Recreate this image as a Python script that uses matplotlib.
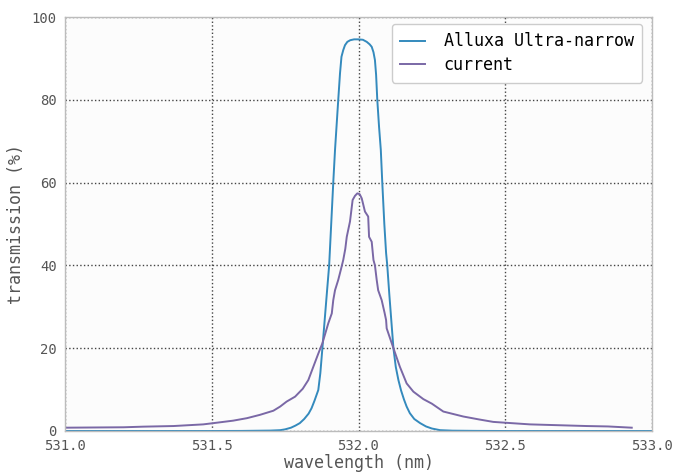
import matplotlib
matplotlib.use('Agg')
import matplotlib.pyplot as plt

# Alluxa ultra-narrow filter curve (wavelength nm, transmission %)
alluxa_wl = [531.0, 531.5, 531.6, 531.7, 531.733, 531.75, 531.77, 531.785, 531.8, 531.815,
             531.83, 531.84, 531.85, 531.863, 531.87, 531.877, 531.885, 531.893, 531.9, 531.907,
             531.914, 531.92, 531.926, 531.931, 531.937, 531.942, 531.948, 531.954, 531.962,
             531.972, 531.985, 532.0, 532.015, 532.028, 532.038, 532.045, 532.051, 532.056,
             532.06, 532.064, 532.07, 532.076, 532.081, 532.088, 532.094, 532.098, 532.105,
             532.112, 532.119, 532.127, 532.136, 532.145, 532.155, 532.164, 532.175, 532.19,
             532.21, 532.23, 532.25, 532.278, 532.32, 532.4, 532.5, 533.0]
alluxa_t = [0.0, 0.0, 0.02, 0.1, 0.2, 0.4, 0.8, 1.3, 1.9, 2.9,
            4.2, 5.5, 7.3, 9.9, 14.0, 20.0, 27.0, 34.0, 40.0, 50.0,
            60.0, 67.9, 74.5, 80.0, 86.4, 90.4, 92.0, 93.2, 94.0,
            94.4, 94.6, 94.6, 94.5, 94.0, 93.4, 92.8, 91.5, 89.6,
            86.0, 80.0, 73.5, 67.9, 60.0, 50.0, 43.0, 40.0, 33.0,
            26.5, 20.0, 15.5, 12.3, 9.8, 7.6, 5.9, 4.3, 2.9,
            1.9, 1.1, 0.6, 0.2, 0.08, 0.03, 0.0, 0.0]

# measured "current" curve
current_wl = [531.0, 531.1, 531.2, 531.267, 531.37, 531.471, 531.5, 531.573, 531.62, 531.664,
              531.71, 531.733, 531.755, 531.784, 531.81, 531.829, 531.846, 531.862, 531.877,
              531.897, 531.909, 531.914, 531.92, 531.931, 531.94, 531.948, 531.955, 531.96,
              531.971, 531.98, 531.988, 531.996, 532.004, 532.011, 532.022, 532.033, 532.036,
              532.045, 532.051, 532.056, 532.062, 532.067, 532.079, 532.089, 532.094, 532.096,
              532.107, 532.119, 532.141, 532.164, 532.187, 532.221, 532.25, 532.289, 532.357,
              532.41, 532.459, 532.5, 532.584, 532.68, 532.777, 532.85, 532.931]
current_t = [0.8, 0.85, 0.9, 1.05, 1.2, 1.6, 1.85, 2.5, 3.1, 3.9,
             4.9, 5.9, 7.1, 8.3, 10.2, 12.3, 15.5, 18.5, 21.2,
             26.0, 28.4, 31.6, 34.0, 36.5, 39.0, 41.3, 44.0, 46.9,
             50.6, 55.8, 56.8, 57.4, 57.2, 56.2, 53.0, 51.8, 46.9,
             45.7, 41.3, 40.0, 36.5, 34.0, 31.6, 28.5, 26.8, 24.8,
             22.5, 20.0, 15.5, 11.5, 9.5, 7.7, 6.6, 4.7, 3.5,
             2.8, 2.2, 2.0, 1.6, 1.4, 1.2, 1.1, 0.8]

gray = '#555555'
plt.rcParams['font.family'] = ['DejaVu Sans Mono']

fig = plt.figure(figsize=(6.73, 4.72), dpi=100)
ax = fig.add_axes([65/673, 1 - 431/472, 587/673, 414/472])
ax.set_facecolor('#fcfcfc')

ax.plot(alluxa_wl, alluxa_t, color='#348ABD', lw=1.4, label='Alluxa Ultra-narrow')
ax.plot(current_wl, current_t, color='#7A68A6', lw=1.4, label='current')

ax.set_xlim(531.0, 533.0)
ax.set_ylim(0, 100)
ax.set_xticks([531.0, 531.5, 532.0, 532.5, 533.0])
ax.set_xticklabels(['531.0', '531.5', '532.0', '532.5', '533.0'])
ax.set_yticks([0, 20, 40, 60, 80, 100])
ax.grid(True, linestyle=':', color='#444444', lw=1.0)
ax.tick_params(length=0, labelsize=10, colors=gray)
ax.tick_params(axis='x', pad=6)
ax.tick_params(axis='y', pad=6)
for s in ax.spines.values():
    s.set_color('#bcbcbc')
    s.set_linewidth(1.0)

ax.set_xlabel('wavelength (nm)', fontsize=12, color=gray, labelpad=0.5)
ax.set_ylabel('transmission (%)', fontsize=12, color=gray, labelpad=5)

leg = ax.legend(loc='upper right', fontsize=12, fancybox=True, framealpha=1.0,
                edgecolor='#cccccc', handlelength=1.5, handletextpad=1.1,
                borderpad=0.5, labelspacing=0.35, borderaxespad=0,
                bbox_to_anchor=(0.983, 0.983))
for t in leg.get_texts():
    t.set_color('black')

fig.savefig('out.png', dpi=100)
